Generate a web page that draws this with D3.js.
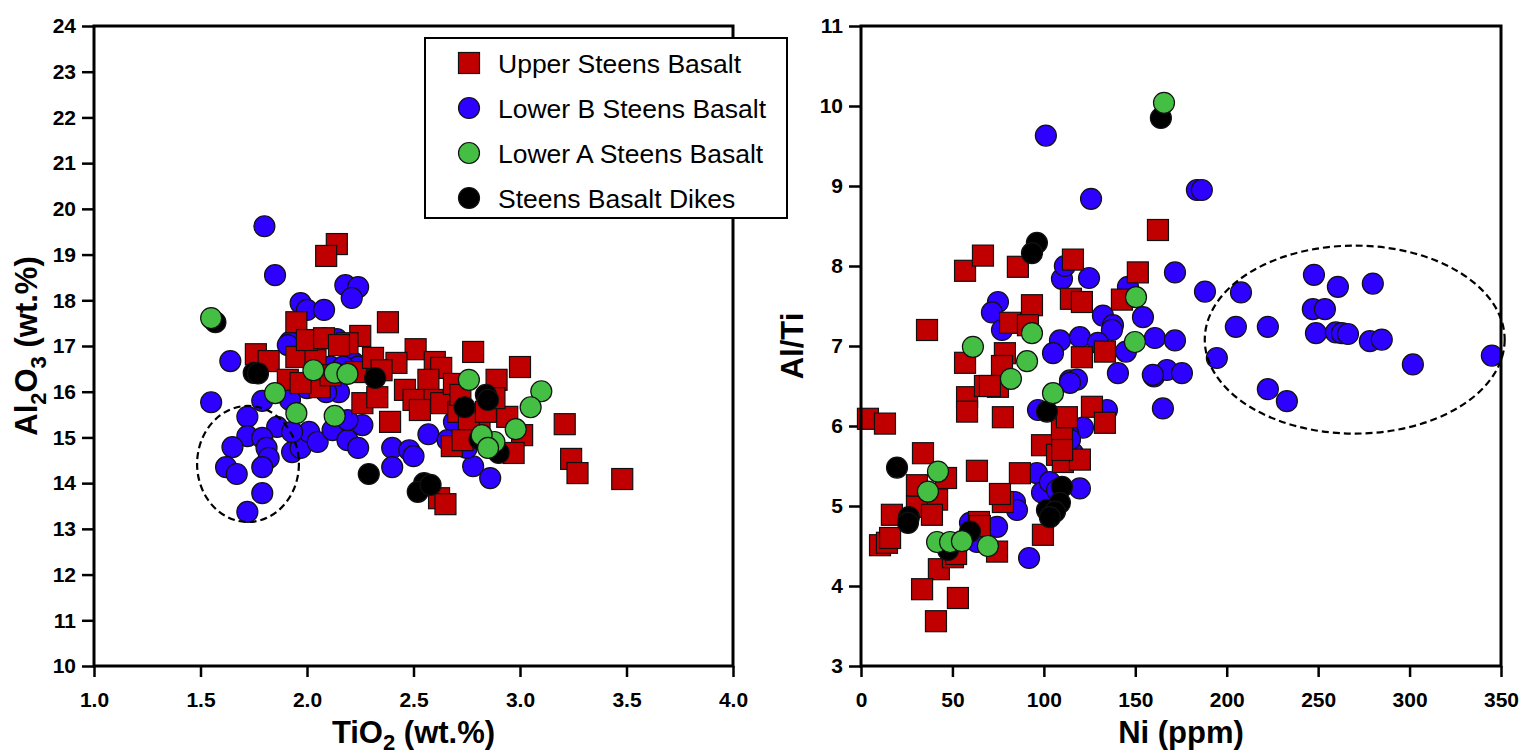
<!DOCTYPE html>
<html>
<head>
<meta charset="utf-8">
<script src="https://cdn.jsdelivr.net/npm/d3@7"></script>
<style>
  body { margin: 0; background: #fff; }
  svg { display: block; font-family: "Liberation Sans", Arial, Helvetica, sans-serif; }
</style>
</head>
<body>
<svg id="chart" width="1523" height="755"></svg>
<script>
// series labels (legend order)
const seriesNames = ["Upper Steens Basalt", "Lower B Steens Basalt", "Lower A Steens Basalt", "Steens Basalt Dikes"];

// left panel: TiO2 (wt.%) vs Al2O3 (wt.%)
const upperTiAl = [[2.14,19.23],[2.09,18.97],[2.38,17.52],[1.95,17.52],[2.25,17.22],[1.76,16.82],[1.82,16.67],[1.95,16.76],[2.04,16.69],[2.00,17.13],[2.08,17.17],[2.19,17.06],[2.06,16.10],[1.91,16.26],[2.26,15.75],[2.15,17.02],[2.33,15.88],[2.51,16.93],[2.60,16.65],[2.63,16.52],[2.78,16.87],[3.00,16.54],[2.89,16.26],[2.42,16.63],[2.46,16.04],[2.57,16.26],[2.59,15.82],[2.50,15.82],[2.53,15.60],[2.39,15.34],[2.63,15.75],[2.68,14.81],[2.94,15.45],[3.01,15.05],[2.97,14.66],[2.81,15.23],[2.62,13.67],[2.65,13.54],[3.21,15.29],[3.24,14.53],[3.27,14.22],[3.48,14.09],[2.23,16.43],[2.31,16.74],[2.35,16.47],[2.71,15.56],[2.76,15.38],[2.84,15.56],[2.69,16.17],[2.72,15.93],[1.97,16.19],[2.11,16.36],[2.73,14.94],[2.88,15.86]];
const lowerBTiAl = [[1.80,19.62],[1.85,18.55],[1.97,17.94],[2.00,17.79],[2.08,17.79],[2.18,18.33],[2.24,18.29],[2.21,18.05],[2.08,17.17],[2.14,17.15],[1.92,17.09],[1.64,16.67],[1.55,15.77],[1.72,15.45],[1.79,15.80],[1.86,15.23],[1.72,15.03],[1.65,14.79],[1.79,14.99],[1.81,14.77],[1.82,14.55],[1.79,14.35],[1.62,14.35],[1.67,14.20],[1.79,13.78],[1.72,13.37],[1.93,14.68],[1.97,14.77],[2.01,15.12],[2.05,14.90],[2.12,15.16],[2.19,14.94],[2.24,14.77],[2.26,15.27],[2.19,15.38],[1.93,15.12],[2.15,15.99],[2.00,16.08],[1.92,15.82],[1.91,17.02],[2.40,14.77],[2.40,14.35],[2.48,14.72],[2.50,14.59],[2.57,15.07],[2.69,15.34],[2.78,14.37],[2.86,14.11],[2.75,14.77],[2.66,14.94],[2.09,15.99],[2.22,16.63],[2.24,16.55],[2.11,16.55],[2.17,16.55]];
const lowerATiAl = [[1.55,17.61],[1.85,15.97],[1.95,15.53],[2.13,15.47],[2.03,16.47],[2.13,16.41],[2.19,16.39],[2.76,16.26],[3.10,16.01],[3.05,15.66],[2.98,15.18],[2.88,14.90],[2.82,15.05],[2.85,14.77]];
const dikesTiAl = [[1.57,17.52],[1.75,16.41],[1.77,16.40],[2.32,16.30],[2.29,14.20],[2.74,15.66],[2.84,15.93],[2.85,15.82],[2.81,14.96],[2.90,14.66],[2.55,14.00],[2.52,13.81],[2.58,13.96]];

// right panel: Ni (ppm) vs Al/Ti
const upperNiAlTi = [[162.4,8.45],[56.9,7.94],[66.7,8.13],[85.8,7.99],[115.9,8.08],[151.4,7.92],[36.1,7.20],[93.5,7.51],[114.8,7.59],[120.8,7.55],[142.7,7.58],[81.5,7.29],[91.3,7.26],[120.8,6.86],[133.4,6.93],[56.9,6.79],[78.7,6.91],[77.1,6.75],[3.8,6.09],[13.1,6.03],[58.0,6.36],[58.0,6.18],[67.8,6.50],[74.9,6.49],[77.6,6.11],[33.9,5.66],[63.4,5.44],[46.5,5.35],[30.6,5.26],[41.6,5.08],[16.9,4.89],[30.6,4.99],[38.8,4.89],[10.4,4.51],[14.2,4.54],[15.9,4.60],[42.6,4.21],[33.4,3.96],[53.0,3.85],[41.0,3.56],[50.3,4.36],[64.5,4.80],[74.4,4.43],[77.6,5.05],[86.9,5.41],[99.0,5.76],[99.5,4.64],[107.2,5.64],[109.9,5.96],[112.6,6.11],[110.4,5.55],[119.7,5.58],[126.3,6.24],[133.4,6.04],[70.5,6.50],[52.0,4.40],[65.0,4.75],[76.0,5.15],[110.0,5.70]];
const lowerBNiAlTi = [[101.1,9.63],[125.8,8.84],[109.9,7.84],[124.7,7.85],[111.5,8.00],[74.9,7.55],[71.6,7.42],[77.1,7.20],[146.0,7.74],[132.3,7.38],[137.8,7.26],[137.2,7.20],[154.2,7.36],[108.8,7.07],[105.0,6.91],[119.7,7.11],[129.6,7.04],[144.9,6.93],[160.7,7.10],[140.5,6.66],[114.3,6.57],[118.1,6.58],[160.2,6.62],[183.7,8.95],[186.4,8.95],[171.7,7.92],[188.1,7.68],[207.8,7.67],[247.7,7.89],[260.8,7.74],[279.9,7.78],[247.1,7.46],[253.7,7.46],[205.0,7.24],[222.5,7.24],[248.8,7.16],[259.7,7.17],[263.0,7.16],[266.3,7.15],[278.3,7.06],[284.8,7.08],[194.6,6.85],[301.8,6.77],[345.0,6.88],[171.7,7.07],[167.3,6.70],[159.6,6.64],[175.5,6.66],[222.5,6.46],[232.9,6.31],[165.1,6.22],[114.3,6.54],[96.8,6.20],[134.5,6.20],[121.4,5.98],[113.2,5.91],[96.2,5.41],[99.0,5.17],[103.3,5.30],[107.2,5.20],[119.7,5.22],[84.2,5.05],[85.3,4.95],[74.4,4.74],[63.4,4.55],[59.6,4.79],[91.9,4.35],[115.9,5.66],[114.3,5.83]];
const lowerANiAlTi = [[165.7,10.04],[150.4,7.61],[93.5,7.16],[61.2,6.99],[90.8,6.81],[149.8,7.05],[82.0,6.59],[105.0,6.41],[42.1,5.43],[36.6,5.18],[41.6,4.55],[48.7,4.55],[55.2,4.56],[69.4,4.50]];
const dikesNiAlTi = [[164.0,9.85],[96.2,8.29],[93.5,8.16],[19.7,5.48],[26.2,4.86],[25.7,4.79],[47.6,4.45],[59.6,4.68],[101.7,6.18],[109.9,5.24],[101.7,4.95],[108.8,5.04],[106.1,4.93],[103.3,4.86]];

// axis ticks
const tiTicks = [1.0, 1.5, 2.0, 2.5, 3.0, 3.5, 4.0];
const alTicks = d3.range(10, 25, 1);
const niTicks = [0, 50, 100, 150, 200, 250, 300, 350];
const alTiTicks = d3.range(3, 12, 1);

// dashed ellipses [cx, cy, rx, ry] in data units
const ellipseTiAl = [1.723, 14.42, 0.239, 1.27];
const ellipseNiAlTi = [270, 7.08, 82, 1.175];

const colors = ["#c00000", "#2e00ff", "#44bf44", "#000000"];
const shapes = ["square", "circle", "circle", "circle"];
const drawOrder = [1, 0, 3, 2]; // blue under red, green on top of dikes

const svg = d3.select("#chart");

function drawMarker(sel, shape, color, size) {
  if (shape === "square") {
    sel.append("rect")
      .attr("x", -size / 2).attr("y", -size / 2)
      .attr("width", size).attr("height", size)
      .attr("fill", color).attr("stroke", "#111").attr("stroke-width", 1.2);
  } else {
    sel.append("circle")
      .attr("r", size / 2)
      .attr("fill", color).attr("stroke", "#111").attr("stroke-width", 1.2);
  }
}

function drawPanel(p) {
  const x = d3.scaleLinear().domain(p.xDomain).range([p.left, p.right]);
  const y = d3.scaleLinear().domain(p.yDomain).range([p.bottom, p.top]);
  const g = svg.append("g");

  // Axes with outward ticks
  const xAxis = g.append("g")
    .attr("transform", `translate(0,${p.bottom})`)
    .call(d3.axisBottom(x).tickValues(p.xTicks).tickFormat(p.xFormat).tickSize(11).tickPadding(15).tickSizeOuter(0));
  const yAxis = g.append("g")
    .attr("transform", `translate(${p.left},0)`)
    .call(d3.axisLeft(y).tickValues(p.yTicks).tickFormat(d3.format("d")).tickSize(12).tickPadding(6).tickSizeOuter(0));

  [xAxis, yAxis].forEach((a) => {
    a.select(".domain").remove();
    a.selectAll(".tick line").attr("stroke", "#000").attr("stroke-width", 2.5);
    a.selectAll(".tick text")
      .attr("fill", "#000")
      .attr("font-size", 21)
      .attr("font-weight", "bold")
      .attr("font-family", "'Liberation Sans', Arial, Helvetica, sans-serif");
  });

  // Points
  drawOrder.forEach((si) => {
    g.append("g").selectAll("g")
      .data(p.series[si])
      .enter()
      .append("g")
      .attr("transform", (d) => `translate(${x(d[0])},${y(d[1])})`)
      .each(function () {
        drawMarker(d3.select(this), shapes[si], colors[si], 21);
      });
  });

  // Dashed ellipse
  const e = p.ellipse;
  g.append("ellipse")
    .attr("cx", x(e[0])).attr("cy", y(e[1]))
    .attr("rx", x(e[0] + e[2]) - x(e[0]))
    .attr("ry", y(e[1]) - y(e[1] + e[3]))
    .attr("fill", "none").attr("stroke", "#000")
    .attr("stroke-width", 2.2).attr("stroke-dasharray", "7,4");

  // Frame
  g.append("rect")
    .attr("x", p.left).attr("y", p.top)
    .attr("width", p.right - p.left).attr("height", p.bottom - p.top)
    .attr("fill", "none").attr("stroke", "#000").attr("stroke-width", 3);

  // Axis titles
  const xt = g.append("text")
    .attr("x", (p.left + p.right) / 2).attr("y", 743)
    .attr("text-anchor", "middle")
    .attr("font-size", 31).attr("font-weight", "bold");
  p.xTitle.forEach((part) => {
    xt.append("tspan").attr("font-size", part.sub ? 22 : 31).attr("dy", part.dy || 0).text(part.t);
  });

  const yt = g.append("text")
    .attr("transform", `translate(${p.yTitleX},${(p.top + p.bottom) / 2}) rotate(-90)`)
    .attr("text-anchor", "middle")
    .attr("font-size", 31).attr("font-weight", "bold");
  p.yTitle.forEach((part) => {
    yt.append("tspan").attr("font-size", part.sub ? 22 : 31).attr("dy", part.dy || 0).text(part.t);
  });
}

drawPanel({
  left: 94, right: 733, top: 26, bottom: 666,
  xDomain: [1, 4], yDomain: [10, 24],
  xTicks: tiTicks, yTicks: alTicks, xFormat: d3.format(".1f"),
  series: [upperTiAl, lowerBTiAl, lowerATiAl, dikesTiAl],
  ellipse: ellipseTiAl,
  xTitle: [{ t: "TiO" }, { t: "2", sub: true, dy: 7 }, { t: " (wt.%)", dy: -7 }],
  yTitleX: 37,
  yTitle: [{ t: "Al" }, { t: "2", sub: true, dy: 9 }, { t: "O", dy: -9 }, { t: "3", sub: true, dy: 9 }, { t: " (wt.%)", dy: -9 }]
});

drawPanel({
  left: 861, right: 1501, top: 26, bottom: 666,
  xDomain: [0, 350], yDomain: [3, 11],
  xTicks: niTicks, yTicks: alTiTicks, xFormat: d3.format("d"),
  series: [upperNiAlTi, lowerBNiAlTi, lowerANiAlTi, dikesNiAlTi],
  ellipse: ellipseNiAlTi,
  xTitle: [{ t: "Ni (ppm)" }],
  yTitleX: 803,
  yTitle: [{ t: "Al/Ti" }]
});

// Legend
const legend = svg.append("g").attr("transform", "translate(425,38)");
legend.append("rect")
  .attr("width", 362).attr("height", 180)
  .attr("fill", "#fff").attr("stroke", "#000").attr("stroke-width", 2);
seriesNames.forEach((name, i) => {
  const row = legend.append("g").attr("transform", `translate(44,${25 + i * 45})`);
  drawMarker(row, shapes[i], colors[i], 21);
  row.append("text")
    .attr("x", 29).attr("y", 9.5)
    .attr("font-size", 26.5).attr("fill", "#000")
    .text(name);
});
</script>
</body>
</html>
